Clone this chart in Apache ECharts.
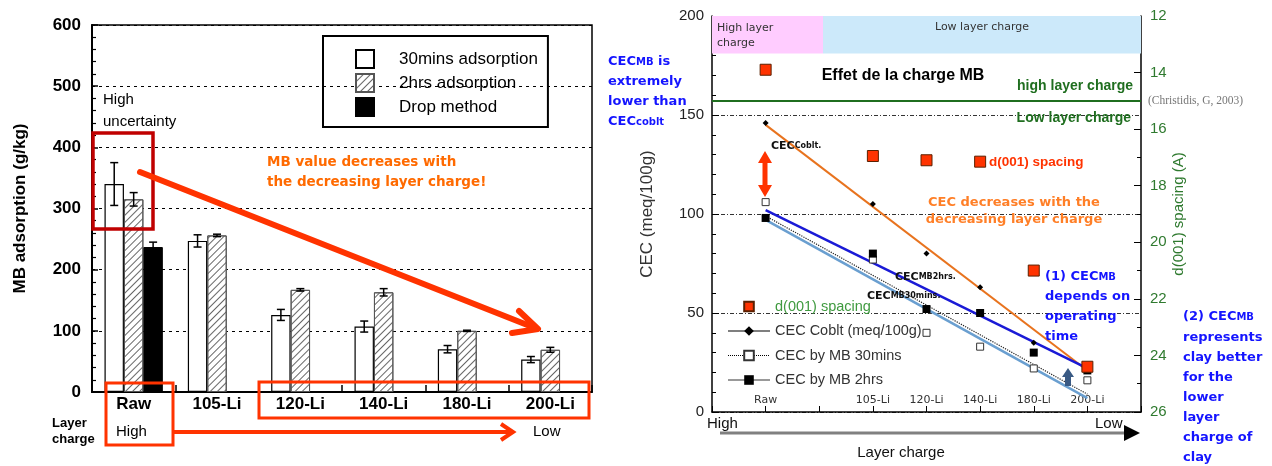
<!DOCTYPE html>
<html><head><meta charset="utf-8">
<script src="https://cdn.jsdelivr.net/npm/echarts@6/dist/echarts.min.js"></script>
<style>html,body{margin:0;padding:0;background:#fff}#c{width:1272px;height:466px}</style>
</head><body><div id="c"></div>
<script>
// ---------- Left chart data (MB adsorption, g/kg) ----------
const categories = ['Raw', '105-Li', '120-Li', '140-Li', '180-Li', '200-Li'];
const mb30 = [340, 247, 126, 107, 70, 53];
const mb30Err = [35, 10, 9, 9, 6, 5];
const mb2h = [315, 256, 167, 163, 100, 69];
const mb2hErr = [11, 2, 2, 6, 1, 4];
const dropMethod = [237, null, null, null, null, null];
const dropErr = [8, null, null, null, null, null];

// ---------- Right chart data ----------
const rightTickLabels = ['', 'Raw', '', '105-Li', '120-Li', '140-Li', '180-Li', '200-Li', ''];
const samplePos = [1, 3, 4, 5, 6, 7];          // tick index of each sample on the layer-charge axis
const cecCoblt = [146, 105, 80, 63, 35, 23];
const cecMB30 = [106, 77, 40, 33, 22, 16];
const cecMB2h = [98, 80, 52, 50, 30, 21];
const d001 = [13.9, 16.95, 17.1, 17.15, 21.0, 24.4];
const trendCoblt = [145, 21];
const trendMB2h = [102, 22];
const trendMB30 = [97, 7];
const trendMB30dot = [99, 9];

const FONT = '"Liberation Sans", Arial, sans-serif';
const VFONT = '"DejaVu Sans", Verdana, sans-serif';
const GREEN = '#2f7a2f';
const ORANGE_RED = '#ff3300';

const pair = (vals) => samplePos.map((x, i) => [x, vals[i]]);
const trend = (t) => [[samplePos[0], t[0]], [samplePos[samplePos.length - 1], t[1]]];

function errorSeries(vals, errs, slot) {
  const data = [];
  vals.forEach((v, i) => { if (v != null && errs[i] != null) data.push([i, v - errs[i], v + errs[i]]); });
  return {
    type: 'custom', xAxisIndex: 0, yAxisIndex: 0, silent: true, z: 5,
    encode: { x: 0, y: [1, 2] },
    data,
    renderItem(params, api) {
      const i = api.value(0);
      const band = api.size([1, 0])[0];
      const w = band * 0.7 / 3;
      const lo = api.coord([i, api.value(1)]);
      const hi = api.coord([i, api.value(2)]);
      const x = lo[0] + (slot - 1) * w;
      const cap = 4;
      const st = { stroke: '#000', lineWidth: 1.5 };
      return { type: 'group', children: [
        { type: 'line', shape: { x1: x, y1: lo[1], x2: x, y2: hi[1] }, style: st },
        { type: 'line', shape: { x1: x - cap, y1: hi[1], x2: x + cap, y2: hi[1] }, style: st },
        { type: 'line', shape: { x1: x - cap, y1: lo[1], x2: x + cap, y2: lo[1] }, style: st }
      ]};
    }
  };
}

const hatch = { symbol: 'rect', symbolSize: 1, dashArrayX: [1, 0], dashArrayY: [1, 4], rotation: -Math.PI / 4, color: '#666' };

const chart = echarts.init(document.getElementById('c'), null, { renderer: 'canvas' });

const option = {
  animation: false,
  backgroundColor: '#fff',
  textStyle: { fontFamily: FONT },
  grid: [
    { left: 92, top: 25, width: 500, height: 367, show: true, borderColor: '#000', borderWidth: 1.5, outerBoundsMode: 'none', containLabel: false },
    { left: 712, top: 16, width: 429, height: 396, outerBoundsMode: 'none', containLabel: false }
  ],
  xAxis: [
    { gridIndex: 0, type: 'category', data: categories,
      axisLine: { show: true, lineStyle: { color: '#000', width: 2 } },
      axisTick: { show: true, inside: true, length: 7, alignWithLabel: false, lineStyle: { color: '#000', width: 1.5 } },
      axisLabel: { fontSize: 17, fontWeight: 'bold', color: '#000', margin: 4, fontFamily: FONT },
      splitLine: { show: false } },
    { gridIndex: 1, type: 'value', min: 0, max: 8, interval: 1,
      axisLine: { show: true, lineStyle: { color: '#000', width: 1.5 } },
      axisTick: { show: true, inside: true, length: 6, lineStyle: { color: '#000' } },
      axisLabel: { inside: true, margin: 6, fontSize: 11, color: '#333', fontFamily: VFONT,
        formatter: (v) => rightTickLabels[v] || '' },
      splitLine: { show: false } }
  ],
  yAxis: [
    { gridIndex: 0, type: 'value', min: 0, max: 600, interval: 100,
      name: 'MB adsorption (g/kg)', nameLocation: 'middle', nameGap: 63, nameRotate: 90,
      nameTextStyle: { fontSize: 17, fontWeight: 'bold', color: '#000', fontFamily: FONT },
      axisLine: { show: true, lineStyle: { color: '#000', width: 2 } },
      axisTick: { show: true, inside: true, length: 6, lineStyle: { color: '#000', width: 1.5 } },
      minorTick: { show: true, splitNumber: 5, length: 4, lineStyle: { color: '#000', width: 1.2 } },
      axisLabel: { fontSize: 17, fontWeight: 'bold', color: '#000', margin: 11, fontFamily: FONT },
      splitLine: { show: true, lineStyle: { color: '#000', type: [3, 4], width: 1.2 } } },
    { gridIndex: 1, type: 'value', min: 0, max: 200, interval: 50,
      name: 'CEC (meq/100g)', nameLocation: 'middle', nameGap: 56, nameRotate: 90,
      nameTextStyle: { fontSize: 17, color: '#333', fontFamily: FONT },
      axisLine: { show: true, lineStyle: { color: '#000', width: 1.5 } },
      axisTick: { show: true, inside: true, length: 7, lineStyle: { color: '#000' } },
      minorTick: { show: true, splitNumber: 5, length: 4, lineStyle: { color: '#000' } },
      axisLabel: { fontSize: 15, color: '#222', margin: 8, fontFamily: FONT },
      splitLine: { show: true, lineStyle: { color: '#333', type: [4, 2, 1, 2], width: 1 } } },
    { gridIndex: 1, type: 'value', position: 'right', inverse: true, min: 12, max: 26, interval: 2,
      name: 'd(001) spacing (A)', nameLocation: 'middle', nameGap: 30, nameRotate: 90,
      nameTextStyle: { fontSize: 15, color: GREEN, fontFamily: FONT },
      axisLine: { show: true, lineStyle: { color: '#000', width: 1.5 } },
      axisTick: { show: true, inside: true, length: 7, lineStyle: { color: '#000' } },
      minorTick: { show: true, splitNumber: 2, length: 4, lineStyle: { color: '#000' } },
      axisLabel: { fontSize: 15, color: GREEN, margin: 9, fontFamily: FONT },
      splitLine: { show: false } }
  ],
  legend: [
    { data: [
        { name: '30mins adsorption', icon: 'rect' },
        { name: '2hrs adsorption', icon: 'rect' },
        { name: 'Drop method', icon: 'rect' }
      ],
      left: 323, top: 36, orient: 'vertical', itemWidth: 18, itemHeight: 18, itemGap: 4,
      padding: [13, 10, 10, 32], borderColor: '#000', borderWidth: 2, selectedMode: false,
      textStyle: { fontSize: 17, color: '#000', fontFamily: FONT, padding: [0, 0, 0, 20] } },
    { data: [
        { name: 'd(001) spacing', textStyle: { color: '#3f9a3f' } },
        { name: 'CEC Coblt (meq/100g)', lineStyle: { color: '#000', width: 1.2, opacity: 1, type: 'solid' } },
        { name: 'CEC by MB 30mins', lineStyle: { color: '#000', width: 1, opacity: 1, type: 'dotted' } },
        { name: 'CEC by MB 2hrs', lineStyle: { color: '#777', width: 1.5, opacity: 1, type: 'solid' } }
      ],
      left: 722, top: 294, orient: 'vertical', itemWidth: 42, itemHeight: 12, itemGap: 9.5, selectedMode: false,
      textStyle: { fontSize: 14.5, color: '#333', fontFamily: FONT } }
  ],
  series: [
    { name: '30mins adsorption', type: 'bar', xAxisIndex: 0, yAxisIndex: 0, data: mb30,
      barGap: '0%', barCategoryGap: '30%',
      itemStyle: { color: '#fff', borderColor: '#000', borderWidth: 1.2 } },
    { name: '2hrs adsorption', type: 'bar', xAxisIndex: 0, yAxisIndex: 0, data: mb2h,
      barGap: '0%', barCategoryGap: '30%',
      itemStyle: { color: '#fff', borderColor: '#555', borderWidth: 1, decal: hatch } },
    { name: 'Drop method', type: 'bar', xAxisIndex: 0, yAxisIndex: 0, data: dropMethod,
      barGap: '0%', barCategoryGap: '30%',
      itemStyle: { color: '#000', borderColor: '#000', borderWidth: 1 } },
    errorSeries(mb30, mb30Err, 0),
    errorSeries(mb2h, mb2hErr, 1),
    errorSeries(dropMethod, dropErr, 2),

    // trend lines (right chart)
    { type: 'line', xAxisIndex: 1, yAxisIndex: 1, data: trend(trendCoblt), symbol: 'none', silent: true, z: 1,
      lineStyle: { color: '#e8731e', width: 2 } },
    { type: 'line', xAxisIndex: 1, yAxisIndex: 1, data: trend(trendMB30), symbol: 'none', silent: true, z: 1,
      lineStyle: { color: '#6a9fd0', width: 2.5 } },
    { type: 'line', xAxisIndex: 1, yAxisIndex: 1, data: trend(trendMB30dot), symbol: 'none', silent: true, z: 1,
      lineStyle: { color: '#222', width: 1.2, type: 'dotted' } },
    { type: 'line', xAxisIndex: 1, yAxisIndex: 1, data: trend(trendMB2h), symbol: 'none', silent: true, z: 1,
      lineStyle: { color: '#1a1ad6', width: 2.5 } },

    { name: 'CEC Coblt (meq/100g)', type: 'line', xAxisIndex: 1, yAxisIndex: 1, data: pair(cecCoblt),
      symbol: 'diamond', symbolSize: 6, z: 3, itemStyle: { color: '#000' }, lineStyle: { opacity: 0 },
      markArea: { silent: true, data: [
        [ { xAxis: 0, yAxis: 181, itemStyle: { color: '#ffccff' },
            label: { show: true, position: 'insideTopLeft', distance: 5, formatter: 'High layer\ncharge',
              fontSize: 11, lineHeight: 15, color: '#333', fontFamily: VFONT } },
          { xAxis: 2.07, yAxis: 200 } ],
        [ { xAxis: 2.07, yAxis: 181, itemStyle: { color: '#cce9fa' },
            label: { show: true, position: 'insideTop', distance: 6, formatter: 'Low layer charge',
              fontSize: 11, color: '#333', fontFamily: VFONT } },
          { xAxis: 8, yAxis: 200 } ]
      ] } },
    { name: 'CEC by MB 30mins', type: 'line', xAxisIndex: 1, yAxisIndex: 1, data: pair(cecMB30),
      symbol: 'rect', symbolSize: 7, z: 3, itemStyle: { color: '#fff', borderColor: '#333', borderWidth: 1 },
      lineStyle: { opacity: 0 } },
    { name: 'CEC by MB 2hrs', type: 'line', xAxisIndex: 1, yAxisIndex: 1, data: pair(cecMB2h),
      symbol: 'rect', symbolSize: 8, z: 3, itemStyle: { color: '#000' }, lineStyle: { opacity: 0 } },
    { name: 'd(001) spacing', type: 'line', xAxisIndex: 1, yAxisIndex: 2, data: pair(d001),
      symbol: 'rect', symbolSize: 11, z: 4, showAllSymbol: true,
      itemStyle: { color: ORANGE_RED, borderColor: '#5a2000', borderWidth: 1 }, lineStyle: { opacity: 0 },
      markLine: { silent: true, symbol: 'none', lineStyle: { color: '#1f6e1f', width: 2, type: 'solid' },
        data: [
          { yAxis: 15, label: { show: true, position: 'insideEndTop', distance: 8, formatter: 'high layer charge',
              fontSize: 14, fontWeight: 'bold', color: '#1f6e1f', fontFamily: FONT } },
          { yAxis: 15, label: { show: true, position: 'insideEndBottom', distance: 10, formatter: 'Low layer charge',
              fontSize: 14, fontWeight: 'bold', color: '#1f6e1f', fontFamily: FONT } },
          { yAxis: 15, label: { show: true, position: 'end', distance: 7, formatter: '(Christidis, G, 2003)',
              fontSize: 11.5, color: '#777', fontFamily: '"Liberation Serif", "DejaVu Serif", serif' } }
        ] } }
  ],
  graphic: [
    // ----- left chart annotations -----
    { type: 'text', z: 100, x: 103, y: 89, style: { text: 'High\nuncertainty', fontSize: 15, lineHeight: 22, fontFamily: FONT, fill: '#000' } },
    { type: 'rect', z: 100, shape: { x: 93, y: 133, width: 60, height: 96 }, style: { fill: 'transparent', stroke: '#c00000', lineWidth: 3.5 } },
    { type: 'line', z: 100, shape: { x1: 140, y1: 172, x2: 535, y2: 328 }, style: { stroke: ORANGE_RED, lineWidth: 6, lineCap: 'round' } },
    { type: 'polyline', z: 100, shape: { points: [[519, 311], [538, 329], [512, 333]] }, style: { stroke: ORANGE_RED, lineWidth: 6, fill: null, lineCap: 'round', lineJoin: 'round' } },
    { type: 'text', z: 100, x: 267, y: 152, style: { text: 'MB value decreases with\nthe decreasing layer charge!', fontSize: 13.5, fontWeight: 'bold', lineHeight: 20, fontFamily: VFONT, fill: '#ff6a00' } },
    { type: 'rect', z: 100, shape: { x: 106, y: 383, width: 67, height: 62 }, style: { fill: 'transparent', stroke: ORANGE_RED, lineWidth: 3 } },
    { type: 'rect', z: 100, shape: { x: 259, y: 382, width: 330, height: 36 }, style: { fill: 'transparent', stroke: ORANGE_RED, lineWidth: 3 } },
    { type: 'line', z: 100, shape: { x1: 173, y1: 432, x2: 511, y2: 432 }, style: { stroke: ORANGE_RED, lineWidth: 4 } },
    { type: 'polyline', z: 100, shape: { points: [[501, 424], [513, 432], [501, 440]] }, style: { stroke: ORANGE_RED, lineWidth: 4, fill: null } },
    { type: 'text', z: 100, x: 52, y: 415, style: { text: 'Layer\ncharge', fontSize: 13, fontWeight: 'bold', lineHeight: 16, fontFamily: FONT, fill: '#000' } },
    { type: 'text', z: 100, x: 116, y: 432, style: { text: 'High', fontSize: 15, fontFamily: FONT, fill: '#000', verticalAlign: 'middle' } },
    { type: 'text', z: 100, x: 533, y: 432, style: { text: 'Low', fontSize: 15, fontFamily: FONT, fill: '#000', verticalAlign: 'middle' } },

    // ----- right chart annotations -----
    { type: 'text', z: 100, x: 903, y: 76, style: { text: 'Effet de la charge MB', fontSize: 16, fontWeight: 'bold', fontFamily: FONT, fill: '#000', align: 'center', verticalAlign: 'middle' } },
    { type: 'text', z: 100, x: 608, y: 52, style: {
        text: '{b|CEC}{s|MB}{b| is}\n{b|extremely}\n{b|lower than}\n{b|CEC}{s|coblt}',
        rich: { b: { fontSize: 13, fontWeight: 'bold', fontFamily: VFONT, fill: '#1414ff', lineHeight: 20 },
                s: { fontSize: 10, fontWeight: 'bold', fontFamily: VFONT, fill: '#1414ff', lineHeight: 20 } } } },
    { type: 'text', z: 100, x: 1045, y: 267, style: {
        text: '{b|(1) CEC}{s|MB}\n{b|depends on}\n{b|operating}\n{b|time}',
        rich: { b: { fontSize: 13, fontWeight: 'bold', fontFamily: VFONT, fill: '#1414ff', lineHeight: 20 },
                s: { fontSize: 10, fontWeight: 'bold', fontFamily: VFONT, fill: '#1414ff', lineHeight: 20 } } } },
    { type: 'text', z: 100, x: 1183, y: 307, style: {
        text: '{b|(2) CEC}{s|MB}\n{b|represents}\n{b|clay better}\n{b|for the}\n{b|lower}\n{b|layer}\n{b|charge of}\n{b|clay}',
        rich: { b: { fontSize: 13, fontWeight: 'bold', fontFamily: VFONT, fill: '#1414ff', lineHeight: 20.1 },
                s: { fontSize: 10, fontWeight: 'bold', fontFamily: VFONT, fill: '#1414ff', lineHeight: 20.1 } } } },
    { type: 'text', z: 100, x: 989, y: 162, style: { text: 'd(001) spacing', fontSize: 13.5, fontWeight: 'bold', fontFamily: FONT, fill: ORANGE_RED, verticalAlign: 'middle' } },
    { type: 'text', z: 100, x: 1014, y: 194, style: { text: 'CEC decreases with the\ndecreasing layer charge', fontSize: 13, fontWeight: 'bold', lineHeight: 17, fontFamily: VFONT, fill: '#ff7f27', align: 'center' } },
    { type: 'text', z: 100, x: 771, y: 146, style: { text: '{b|CEC}{s|Coblt.}', verticalAlign: 'middle',
        rich: { b: { fontSize: 11, fontWeight: 'bold', fontFamily: VFONT, fill: '#111' }, s: { fontSize: 8, fontWeight: 'bold', fontFamily: VFONT, fill: '#111' } } } },
    { type: 'text', z: 100, x: 895, y: 277, style: { text: '{b|CEC}{s|MB2hrs.}', verticalAlign: 'middle',
        rich: { b: { fontSize: 11, fontWeight: 'bold', fontFamily: VFONT, fill: '#111' }, s: { fontSize: 8, fontWeight: 'bold', fontFamily: VFONT, fill: '#111' } } } },
    { type: 'text', z: 100, x: 867, y: 296, style: { text: '{b|CEC}{s|MB30mins.}', verticalAlign: 'middle',
        rich: { b: { fontSize: 11, fontWeight: 'bold', fontFamily: VFONT, fill: '#111' }, s: { fontSize: 8, fontWeight: 'bold', fontFamily: VFONT, fill: '#111' } } } },
    { type: 'polygon', z: 100, shape: { points: [[765, 151], [772, 163], [767.5, 163], [767.5, 185], [772, 185], [765, 197], [758, 185], [762.5, 185], [762.5, 163], [758, 163]] }, style: { fill: ORANGE_RED } },
    { type: 'polygon', z: 100, shape: { points: [[1068, 368], [1074, 377], [1071, 377], [1071, 386], [1065, 386], [1065, 377], [1062, 377]] }, style: { fill: '#3a5a84' } },
    { type: 'text', z: 100, x: 707, y: 424, style: { text: 'High', fontSize: 15, fontFamily: FONT, fill: '#111', verticalAlign: 'middle' } },
    { type: 'text', z: 100, x: 1095, y: 424, style: { text: 'Low', fontSize: 15, fontFamily: FONT, fill: '#111', verticalAlign: 'middle' } },
    { type: 'line', z: 100, shape: { x1: 720, y1: 433, x2: 1126, y2: 433 }, style: { stroke: '#808080', lineWidth: 3 } },
    { type: 'polygon', z: 100, shape: { points: [[1124, 425], [1140, 433], [1124, 441]] }, style: { fill: '#000' } },
    { type: 'text', z: 100, x: 901, y: 453, style: { text: 'Layer charge', fontSize: 15, fontFamily: FONT, fill: '#111', align: 'center', verticalAlign: 'middle' } }
  ]
};
chart.setOption(option);
</script>
</body></html>
